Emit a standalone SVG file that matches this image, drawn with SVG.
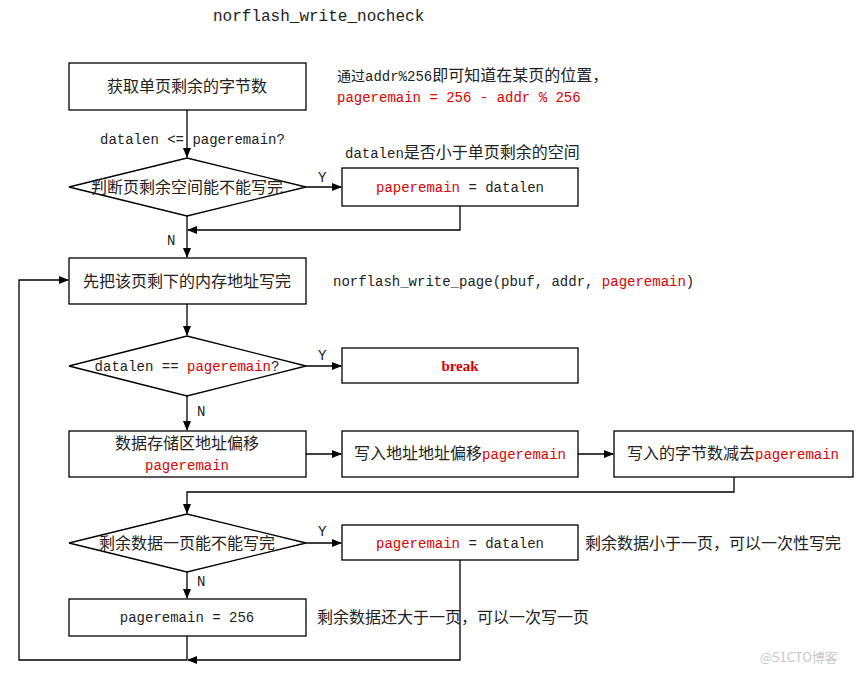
<svg xmlns="http://www.w3.org/2000/svg" width="867" height="675" viewBox="0 0 867 675">
<defs>
<marker id="ar" markerWidth="10" markerHeight="8" refX="9" refY="4" orient="auto" markerUnits="userSpaceOnUse"><path d="M0,0 L10,4 L0,8 Z" fill="#000"/></marker>
<style>
.b{fill:#fff;stroke:#000;stroke-width:1.3}
.t{font-family:"Liberation Mono","Noto Sans CJK SC",monospace;font-size:14px;fill:#222}
.z{font-size:16px}
.c{text-anchor:middle}
.r{fill:#e00000}
.l{fill:none;stroke:#000;stroke-width:1.3}
</style>
</defs>
<rect width="867" height="675" fill="#fff"/>
<text class="t" x="213" y="21" style="font-size:16px">norflash_write_nocheck</text>
<g id="connectors">
<path class="l" d="M187,110 V157" marker-end="url(#ar)"/>
<path class="l" d="M306,187 H341" marker-end="url(#ar)"/>
<path class="l" d="M460,206 V230 H188" marker-end="url(#ar)"/>
<path class="l" d="M187,216 V257" marker-end="url(#ar)"/>
<path class="l" d="M187,304 V335" marker-end="url(#ar)"/>
<path class="l" d="M306,366 H341" marker-end="url(#ar)"/>
<path class="l" d="M187,396 V430" marker-end="url(#ar)"/>
<path class="l" d="M306,454 H341" marker-end="url(#ar)"/>
<path class="l" d="M578,454 H613" marker-end="url(#ar)"/>
<path class="l" d="M734,477 V492 H187 V513" marker-end="url(#ar)"/>
<path class="l" d="M306,543 H341" marker-end="url(#ar)"/>
<path class="l" d="M187,572 V598" marker-end="url(#ar)"/>
<path class="l" d="M187,636 V660"/>
<path class="l" d="M460,560 V660 H188" marker-end="url(#ar)"/>
<path class="l" d="M187,660 H19 V280 H68" marker-end="url(#ar)"/>
<text class="t" x="100" y="144">datalen &lt;= pageremain?</text>
<text class="t" x="318" y="182">Y</text>
<text class="t" x="167" y="245">N</text>
<text class="t" x="318" y="360">Y</text>
<text class="t" x="197" y="416">N</text>
<text class="t" x="318" y="536">Y</text>
<text class="t" x="197" y="586">N</text>
</g>
<g id="n1"><rect class="b" x="69" y="63" width="237" height="47"/><text class="t c z" x="187" y="92">获取单页剩余的字节数</text></g>
<g id="note1"><text class="t" x="337" y="81">通过addr%256<tspan class="z">即可知道在某页的位置，</tspan></text><text class="t r" x="337" y="102">pageremain = 256 - addr % 256</text></g>
<g id="d1"><polygon class="b" points="69,187 187,158 306,187 187,216"/><text class="t c z" x="187" y="193">判断页剩余空间能不能写完</text></g>
<g id="note2"><text class="t" x="345" y="158">datalen<tspan class="z">是否小于单页剩余的空间</tspan></text></g>
<g id="n2"><rect class="b" x="342" y="168" width="236" height="38"/><text class="t c" x="460" y="192"><tspan class="r">paperemain</tspan> = datalen</text></g>
<g id="n3"><rect class="b" x="69" y="258" width="237" height="46"/><text class="t c z" x="187" y="287">先把该页剩下的内存地址写完</text></g>
<g id="note3"><text class="t" x="333" y="286">norflash_write_page(pbuf, addr, <tspan class="r">pageremain</tspan>)</text></g>
<g id="d2"><polygon class="b" points="69,366 187,336 306,366 187,396"/><text class="t c" x="187" y="371">datalen == <tspan class="r">pageremain</tspan>?</text></g>
<g id="n4"><rect class="b" x="342" y="348" width="236" height="35"/><text class="t c r" x="460" y="371" style="font-weight:bold;font-family:'Liberation Serif',serif;font-size:15px">break</text></g>
<g id="n5"><rect class="b" x="69" y="431" width="237" height="46"/><text class="t c z" x="187" y="449">数据存储区地址偏移</text><text class="t c r" x="187" y="470">pageremain</text></g>
<g id="n6"><rect class="b" x="342" y="431" width="236" height="46"/><text class="t c" x="460" y="459"><tspan class="z">写入地址地址偏移</tspan><tspan class="r">pageremain</tspan></text></g>
<g id="n7"><rect class="b" x="614" y="431" width="239" height="46"/><text class="t c" x="733" y="459"><tspan class="z">写入的字节数减去</tspan><tspan class="r">pageremain</tspan></text></g>
<g id="d3"><polygon class="b" points="69,543 187,514 306,543 187,572"/><text class="t c z" x="187" y="549">剩余数据一页能不能写完</text></g>
<g id="n8"><rect class="b" x="342" y="525" width="236" height="35"/><text class="t c" x="460" y="548"><tspan class="r">pageremain</tspan> = datalen</text></g>
<g id="note4"><text class="t z" x="585" y="549">剩余数据小于一页，可以一次性写完</text></g>
<g id="n9"><rect class="b" x="69" y="599" width="237" height="37"/><text class="t c" x="187" y="622">pageremain = 256</text></g>
<g id="note5"><text class="t z" x="317" y="623">剩余数据还大于一页，可以一次写一页</text></g>
<text x="760" y="662" style="font-family:'Noto Sans CJK SC',sans-serif;font-size:13px;fill:#c8c8c8">@51CTO博客</text>
</svg>
